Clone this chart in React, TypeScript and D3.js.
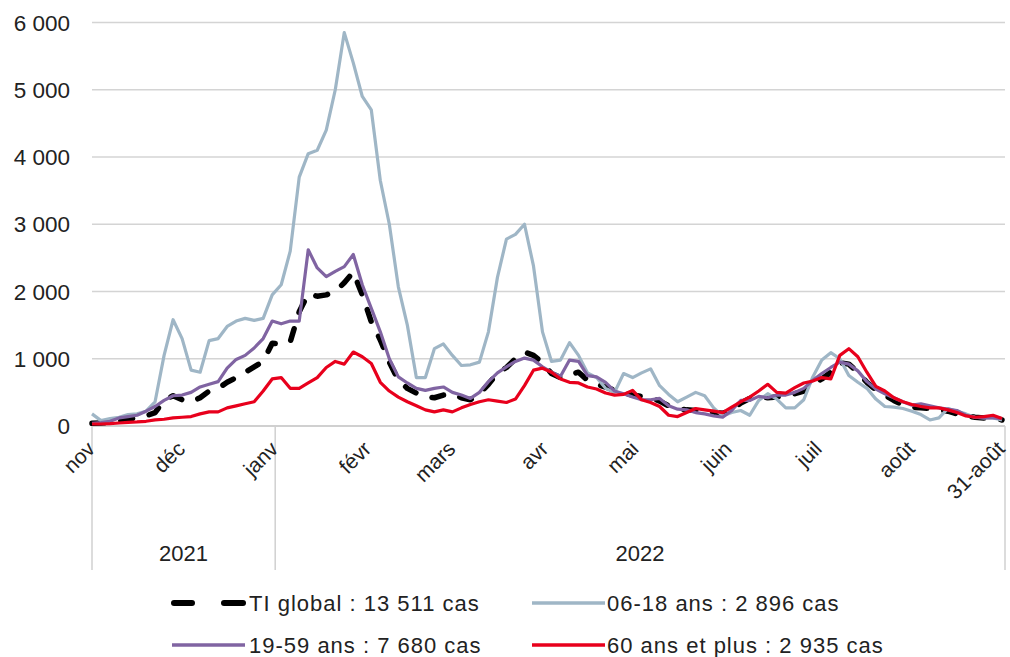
import React from "react";
import * as d3 from "d3";

// Sampling every 3 days from 1 Nov 2021 to 31 Aug 2022
const startDate = new Date(Date.UTC(2021, 10, 1));
const endDate = new Date(Date.UTC(2022, 7, 31));
const stepDays = 3;

const tiGlobal = [40, 45, 50, 70, 100, 125, 150, 200, 380, 450, 390, 360, 420, 520, 560, 650, 720, 800, 880, 960, 1230, 1220, 1250, 1700, 1970, 1930, 1950, 2000, 2130, 2290, 1950, 1550, 1280, 950, 680, 560, 490, 430, 420, 460, 480, 420, 390, 480, 620, 790, 870, 1000, 1100, 1050, 940, 780, 720, 760, 800, 680, 620, 580, 530, 490, 460, 440, 420, 370, 300, 260, 240, 230, 210, 200, 190, 240, 340, 410, 440, 420, 430, 460, 480, 520, 620, 700, 800, 940, 920, 800, 650, 540, 460, 380, 310, 280, 270, 260, 240, 220, 180, 150, 130, 120, 120, 90];

const ans0618 = [180, 80, 110, 130, 170, 180, 220, 360, 1050, 1580, 1300, 830, 800, 1270, 1300, 1480, 1560, 1600, 1570, 1600, 1950, 2100, 2600, 3700, 4050, 4100, 4400, 5000, 5850, 5400, 4900, 4700, 3650, 3000, 2070, 1500, 720, 720, 1150, 1220, 1050, 900, 910, 950, 1400, 2210, 2780, 2850, 3000, 2380, 1400, 960, 980, 1240, 1050, 790, 720, 560, 500, 780, 720, 790, 850, 600, 470, 360, 430, 500, 450, 270, 150, 200, 230, 160, 380, 480, 400, 270, 270, 390, 730, 980, 1090, 1000, 750, 650, 560, 400, 290, 280, 260, 220, 170, 90, 120, 260, 220, 180, 130, 120, 120, 90];

const ans1959 = [40, 50, 70, 120, 140, 160, 220, 290, 380, 450, 460, 500, 580, 620, 660, 860, 990, 1050, 1160, 1300, 1560, 1520, 1560, 1560, 2620, 2350, 2220, 2300, 2370, 2550, 2100, 1750, 1400, 1000, 730, 640, 560, 530, 560, 580, 500, 460, 410, 500, 660, 790, 880, 960, 1010, 980, 880, 800, 740, 980, 960, 750, 730, 650, 520, 480, 430, 390, 390, 410, 300, 250, 240, 200, 180, 150, 130, 230, 380, 380, 440, 420, 460, 460, 500, 560, 680, 780, 870, 950, 920, 820, 660, 550, 480, 420, 360, 310, 330, 300, 270, 250, 230, 160, 130, 120, 120, 110];

const ans60plus = [30, 30, 35, 45, 55, 60, 70, 90, 100, 120, 130, 140, 180, 210, 210, 270, 300, 330, 360, 520, 700, 720, 560, 560, 640, 720, 870, 960, 920, 1100, 1030, 930, 650, 520, 430, 360, 300, 240, 210, 240, 210, 270, 320, 360, 390, 370, 350, 400, 600, 830, 860, 800, 700, 650, 640, 580, 550, 490, 460, 470, 530, 390, 350, 290, 160, 140, 200, 260, 240, 220, 200, 280, 360, 430, 520, 620, 500, 490, 570, 640, 670, 720, 700, 1050, 1150, 1030, 800, 590, 520, 420, 360, 320, 290, 270, 270, 240, 200, 150, 130, 140, 160, 110];

const yTicks = [0, 1000, 2000, 3000, 4000, 5000, 6000];
const monthLabels = ["nov", "déc", "janv", "févr", "mars", "avr", "mai", "juin", "juil", "août", "31-août"];
const monthDates = [
  [2021, 10, 1], [2021, 11, 1], [2022, 0, 1], [2022, 1, 1], [2022, 2, 1], [2022, 3, 1],
  [2022, 4, 1], [2022, 5, 1], [2022, 6, 1], [2022, 7, 1], [2022, 7, 31],
];
const years = ["2021", "2022"];
const legendLabels = ["TI global : 13 511 cas", "06-18 ans : 2 896 cas", "19-59 ans : 7 680 cas", "60 ans et plus : 2 935 cas"];

const FONT = "'Liberation Sans', Arial, sans-serif";

export default function App() {
  const W = 1010, H = 657;
  const x = d3.scaleUtc().domain([startDate, endDate]).range([92, 1002]);
  const y = d3.scaleLinear().domain([0, 6000]).range([426, 22.5]);
  const dates = tiGlobal.map((_, i) => d3.utcDay.offset(startDate, i * stepDays));
  const line = d3
    .line<number>()
    .x((_, i) => x(dates[i]))
    .y((v) => y(v));

  const series = [
    { values: tiGlobal, color: "#000000", width: 5.5, dash: "12,17", cap: "round" as const },
    { values: ans0618, color: "#9fb6c6", width: 3.2, dash: undefined, cap: "butt" as const },
    { values: ans1959, color: "#8064a2", width: 3.2, dash: undefined, cap: "butt" as const },
    { values: ans60plus, color: "#e8001c", width: 3.2, dash: undefined, cap: "butt" as const },
  ];

  const mDates = monthDates.map(([yy, mm, dd]) => new Date(Date.UTC(yy, mm, dd)));
  const jan = new Date(Date.UTC(2022, 0, 1));
  const x0 = x.range()[0];
  const x1 = 1005;

  return (
    <svg width={W} height={H} style={{ position: "absolute", left: 0, top: 0, background: "#fff" }} fontFamily={FONT}>
      {/* gridlines */}
      {yTicks.map((t) => (
        <line key={t} x1={x0} x2={x1} y1={y(t)} y2={y(t)} stroke={t === 0 ? "#d0d0d0" : "#d4d4d4"} strokeWidth={t === 0 ? 2 : 1.3} />
      ))}
      {yTicks.map((t) => (
        <text key={"yl" + t} x={70} y={y(t)} dy="0.36em" textAnchor="end" fontSize={22.5} fill="#222">
          {d3.format(",")(t).replace(/,/g, " ")}
        </text>
      ))}
      {/* vertical separators */}
      {[x0, x(jan), x1].map((vx, i) => (
        <line key={"v" + i} x1={vx} x2={vx} y1={y(0)} y2={570} stroke="#d0d0d0" strokeWidth={1.5} />
      ))}
      {/* month labels */}
      {monthLabels.map((m, i) => (
        <text
          key={m}
          transform={`translate(${x(mDates[i]) - 1},${445}) rotate(-45)`}
          textAnchor="end"
          dy="0.35em"
          fontSize={21}
          fill="#222"
        >
          {m}
        </text>
      ))}
      <text x={(x0 + x(jan)) / 2} y={561} textAnchor="middle" fontSize={22} fill="#222">{years[0]}</text>
      <text x={(x(jan) + x1) / 2} y={561} textAnchor="middle" fontSize={22} fill="#222">{years[1]}</text>
      {/* series */}
      {series.map((s, i) => (
        <path
          key={i}
          d={line(s.values) || ""}
          fill="none"
          stroke={s.color}
          strokeWidth={s.width}
          strokeDasharray={s.dash}
          strokeLinecap={s.cap}
          strokeLinejoin="round"
        />
      ))}
      {/* legend */}
      <g fontSize={22} fill="#222" letterSpacing={1}>
        <line x1={174} x2={192} y1={603} y2={603} stroke="#000" strokeWidth={6} strokeLinecap="round" />
        <line x1={224} x2={243} y1={603} y2={603} stroke="#000" strokeWidth={6} strokeLinecap="round" />
        <text x={249} y={603} dy="0.36em">{legendLabels[0]}</text>
        <line x1={532} x2={605} y1={603} y2={603} stroke={series[1].color} strokeWidth={3.5} />
        <text x={607} y={603} dy="0.36em">{legendLabels[1]}</text>
        <line x1={172} x2={245} y1={645} y2={645} stroke={series[2].color} strokeWidth={3.5} />
        <text x={249} y={645} dy="0.36em">{legendLabels[2]}</text>
        <line x1={532} x2={605} y1={645} y2={645} stroke={series[3].color} strokeWidth={3.5} />
        <text x={607} y={645} dy="0.36em">{legendLabels[3]}</text>
      </g>
    </svg>
  );
}
